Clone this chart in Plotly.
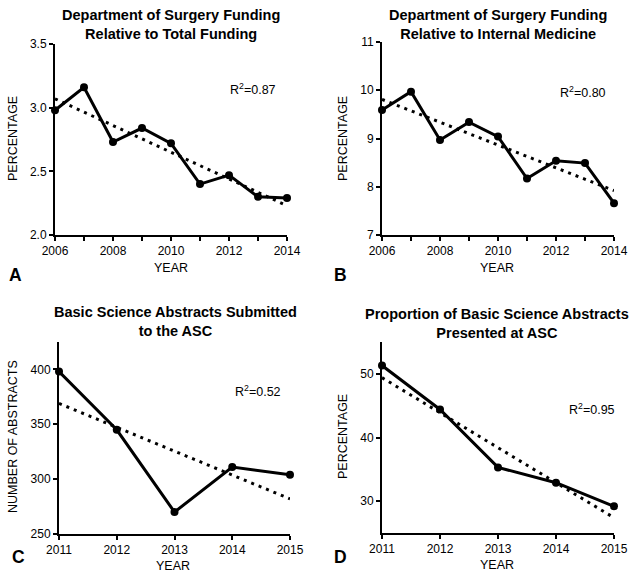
import plotly.graph_objects as go

W, H = 639, 579

# ---- data ----
years_ab = [2006, 2007, 2008, 2009, 2010, 2011, 2012, 2013, 2014]
funding_total_pct = [2.98, 3.16, 2.73, 2.84, 2.72, 2.40, 2.47, 2.30, 2.29]
funding_im_pct = [9.59, 9.97, 8.97, 9.34, 9.04, 8.17, 8.54, 8.49, 7.66]
trend_years_ab = [2006, 2014]
trend_total = [3.07, 2.23]
trend_im = [9.81, 7.92]

years_cd = [2011, 2012, 2013, 2014, 2015]
abstracts_submitted = [398, 345, 270, 311, 304]
abstracts_presented_pct = [51.3, 44.4, 35.3, 32.9, 29.2]
trend_years_cd = [2011, 2015]
trend_submitted = [369, 282]
trend_presented = [49.4, 27.4]

xtick_ab = [2006, 2007, 2008, 2009, 2010, 2011, 2012, 2013, 2014]
xtext_ab = ["2006", "", "2008", "", "2010", "", "2012", "", "2014"]
xtick_cd = [2011, 2012, 2013, 2014, 2015]
xtext_cd = ["2011", "2012", "2013", "2014", "2015"]

titles = [
    "Department of Surgery Funding<br>Relative to Total Funding",
    "Department of Surgery Funding<br>Relative to Internal Medicine",
    "Basic Science Abstracts Submitted<br>to the ASC",
    "Proportion of Basic Science Abstracts<br>Presented at ASC",
]
r2_labels = ["R<sup>2</sup>=0.87", "R<sup>2</sup>=0.80", "R<sup>2</sup>=0.52", "R<sup>2</sup>=0.95"]
ytitles = ["PERCENTAGE", "PERCENTAGE", "NUMBER OF ABSTRACTS", "PERCENTAGE"]
panel_letters = ["A", "B", "C", "D"]


def px_x(x):
    return x / W


def px_y(y):
    return 1 - y / H


FONT = "Liberation Sans, Arial, Helvetica, sans-serif"

panels = [
    dict(x=years_ab, y=funding_total_pct, tx=trend_years_ab, ty=trend_total,
         dom_x=(55, 287), dom_y=(44, 235), yr=[2.0, 3.5], ytv=[2.0, 2.5, 3.0, 3.5],
         ytt=["2.0", "2.5", "3.0", "3.5"], xr=[2006, 2014], xtv=xtick_ab, xtt=xtext_ab),
    dict(x=years_ab, y=funding_im_pct, tx=trend_years_ab, ty=trend_im,
         dom_x=(382, 614), dom_y=(42, 235), yr=[7, 11], ytv=[7, 8, 9, 10, 11],
         ytt=["7", "8", "9", "10", "11"], xr=[2006, 2014], xtv=xtick_ab, xtt=xtext_ab),
    dict(x=years_cd, y=abstracts_submitted, tx=trend_years_cd, ty=trend_submitted,
         dom_x=(59, 290), dom_y=(342, 534), yr=[250, 425], ytv=[250, 300, 350, 400],
         ytt=["250", "300", "350", "400"], xr=[2011, 2015], xtv=xtick_cd, xtt=xtext_cd),
    dict(x=years_cd, y=abstracts_presented_pct, tx=trend_years_cd, ty=trend_presented,
         dom_x=(382, 614), dom_y=(342, 533), yr=[25, 55], ytv=[30, 40, 50],
         ytt=["30", "40", "50"], xr=[2011, 2015], xtv=xtick_cd, xtt=xtext_cd),
]

# annotation positions (pixels)
title_pos = [(171, 24), (498, 24), (175, 321), (497, 323)]
r2_pos = [(253, 89), (583, 92), (258, 391), (592, 409)]
ytitle_pos = [(13, 139), (343, 139), (13, 437), (343, 437)]
xtitle_pos = [(171, 268), (497, 268), (173, 566), (497, 565)]
letter_pos = [(15, 275), (340, 275), (18, 557), (340, 557)]

fig = go.Figure()
layout = dict(
    template="none",
    width=W, height=H, margin=dict(l=0, r=0, t=0, b=0, pad=0), autosize=False,
    paper_bgcolor="white", plot_bgcolor="white", showlegend=False,
    font=dict(family=FONT, color="black", size=12),
)
annotations = []

for i, p in enumerate(panels):
    n = "" if i == 0 else str(i + 1)
    xa, ya = "x" + n, "y" + n
    fig.add_trace(go.Scatter(
        x=p["tx"], y=p["ty"], mode="lines", xaxis=xa, yaxis=ya,
        line=dict(color="black", width=3, dash="3px,5px"), cliponaxis=False,
        hoverinfo="skip",
    ))
    fig.add_trace(go.Scatter(
        x=p["x"], y=p["y"], mode="lines+markers", xaxis=xa, yaxis=ya,
        line=dict(color="black", width=3), marker=dict(color="black", size=8),
        cliponaxis=False,
    ))
    layout["xaxis" + n] = dict(
        domain=[px_x(p["dom_x"][0]), px_x(p["dom_x"][1])], anchor=ya, automargin=False,
        range=p["xr"], tickmode="array", tickvals=p["xtv"], ticktext=p["xtt"],
        showgrid=False, zeroline=False, showline=True, linecolor="black", linewidth=2,
        ticks="outside", ticklen=4, tickwidth=1.5, tickcolor="black",
        tickfont=dict(size=12, family=FONT, color="black"),
    )
    layout["yaxis" + n] = dict(
        domain=[px_y(p["dom_y"][1]), px_y(p["dom_y"][0])], anchor=xa, automargin=False,
        range=p["yr"], tickmode="array", tickvals=p["ytv"], ticktext=p["ytt"],
        showgrid=False, zeroline=False, showline=True, linecolor="black", linewidth=2,
        ticks="outside", ticklen=4, tickwidth=1.5, tickcolor="black",
        tickfont=dict(size=12, family=FONT, color="black"),
    )
    tx, ty = title_pos[i]
    annotations.append(dict(text="<b>" + titles[i] + "</b>", x=px_x(tx), y=px_y(ty),
                            xref="paper", yref="paper", showarrow=False,
                            xanchor="center", yanchor="middle",
                            font=dict(size=14.5, family=FONT, color="black")))
    rx, ry = r2_pos[i]
    annotations.append(dict(text=r2_labels[i], x=px_x(rx), y=px_y(ry),
                            xref="paper", yref="paper", showarrow=False,
                            xanchor="center", yanchor="middle",
                            font=dict(size=12.5, family=FONT, color="black")))
    yx, yy = ytitle_pos[i]
    annotations.append(dict(text=ytitles[i], x=px_x(yx), y=px_y(yy),
                            xref="paper", yref="paper", showarrow=False, textangle=-90,
                            xanchor="center", yanchor="middle",
                            font=dict(size=12.5, family=FONT, color="black")))
    xx, xy = xtitle_pos[i]
    annotations.append(dict(text="YEAR", x=px_x(xx), y=px_y(xy),
                            xref="paper", yref="paper", showarrow=False,
                            xanchor="center", yanchor="middle",
                            font=dict(size=12.5, family=FONT, color="black")))
    lx, ly = letter_pos[i]
    annotations.append(dict(text="<b>" + panel_letters[i] + "</b>", x=px_x(lx), y=px_y(ly),
                            xref="paper", yref="paper", showarrow=False,
                            xanchor="center", yanchor="middle",
                            font=dict(size=17.5, family=FONT, color="black")))

layout["annotations"] = annotations
fig.update_layout(**layout)
fig.write_html(
    "out.html",
    config={"displayModeBar": False},
    post_script="document.body.style.margin='0px';document.body.style.overflow='hidden';",
)
